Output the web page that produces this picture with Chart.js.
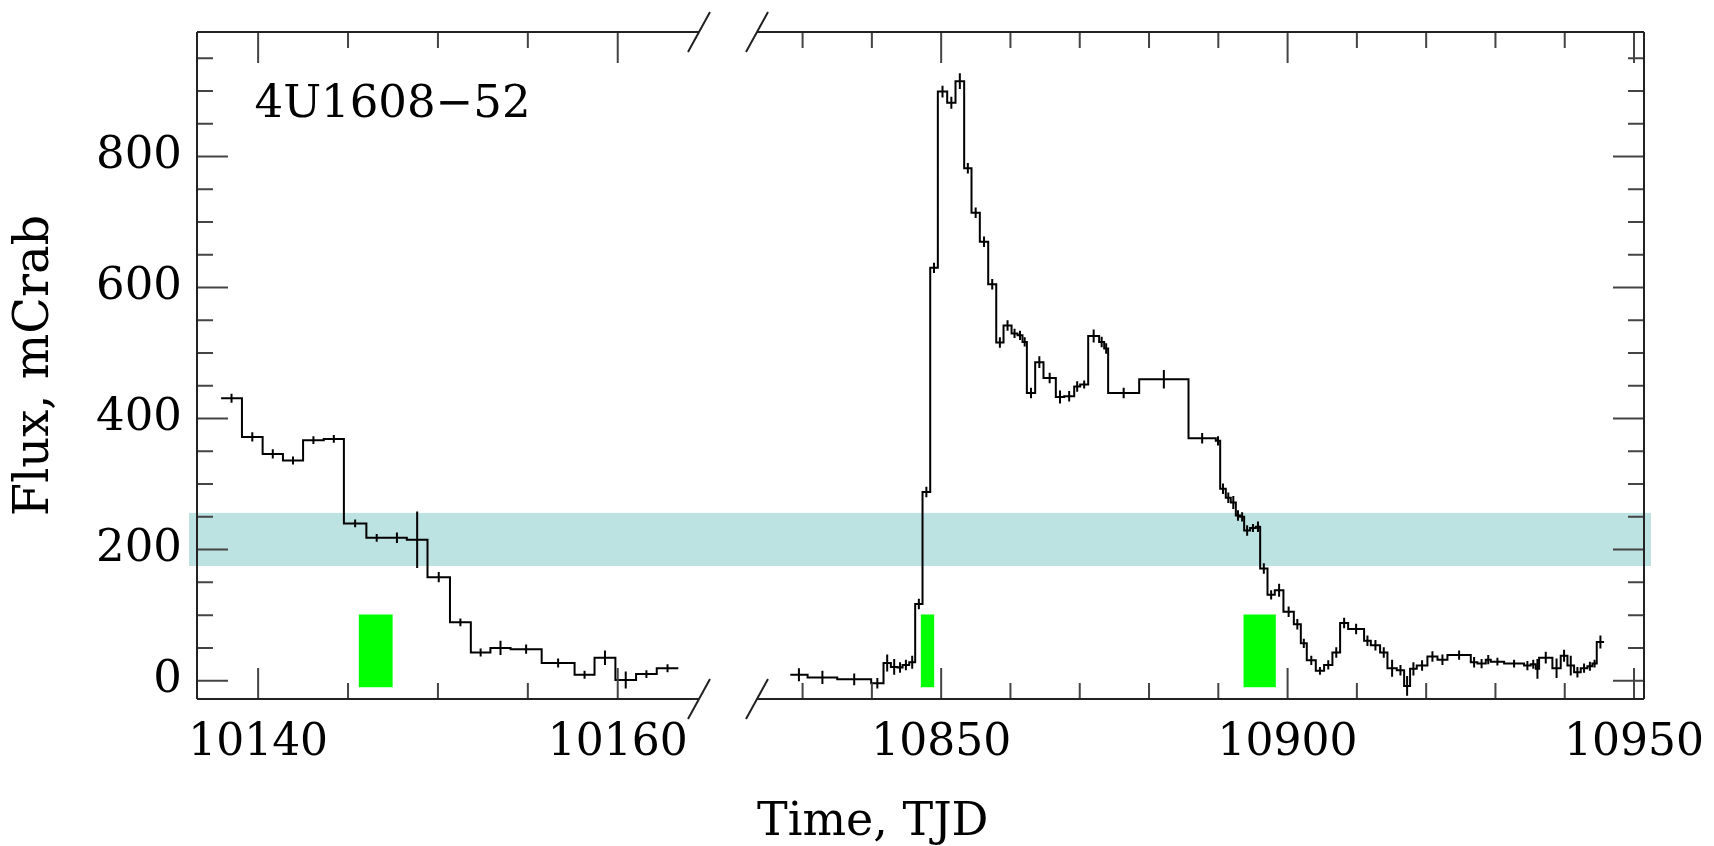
<!DOCTYPE html>
<html>
<head>
<meta charset="utf-8">
<title>4U1608-52 light curve</title>
<script src="https://cdn.jsdelivr.net/npm/chart.js@4/dist/chart.umd.min.js"></script>
<style>
  html, body { margin: 0; padding: 0; background: #fff; }
  #wrap { position: relative; width: 1714px; height: 846px; }
  #leftPanel { position: absolute; left: 0; top: 0; }
  #rightPanel { position: absolute; left: 718px; top: 0; }
</style>
</head>
<body>
<div id="wrap">
  <canvas id="leftPanel" width="718" height="846"></canvas>
  <canvas id="rightPanel" width="996" height="846"></canvas>
</div>
<script>
// light curve bins: edges in TJD, flux in mCrab, 1 sigma errors
const leftEdges = [10137.94, 10139.10, 10140.25, 10141.38, 10142.50, 10143.65, 10144.77, 10146.02,
    10147.17, 10148.27, 10149.42, 10150.67, 10151.83, 10152.92, 10154.04, 10155.77, 10157.60,
    10158.71, 10159.87, 10161.02, 10162.17, 10163.37];
const leftFlux = [431, 372, 346, 336, 367, 369, 240, 218, 218, 215, 158, 89, 43, 50, 48, 27, 9, 35, 1, 10, 19];
const leftErr = [7, 7, 7, 6, 6, 6, 6, 6, 8, 43, 8, 6, 6, 11, 7, 7, 6, 11, 13, 6, 6];

const rightEdges = [10828.22, 10830.72, 10835.00, 10839.90, 10841.68, 10842.74, 10843.70, 10844.43,
    10845.39, 10846.25, 10847.31, 10848.42, 10849.52, 10850.87, 10852.07, 10853.32, 10854.38,
    10855.58, 10856.79, 10857.95, 10859.00, 10860.16, 10861.02, 10861.74, 10862.37, 10863.57,
    10864.77, 10866.55, 10867.75, 10869.20, 10870.06, 10871.22, 10872.80, 10873.53, 10874.10,
    10878.58, 10885.70, 10889.64, 10890.27, 10891.08, 10891.80, 10892.53, 10893.15, 10893.73,
    10894.59, 10895.41, 10896.04, 10897.10, 10898.15, 10899.40, 10900.90, 10901.91, 10902.77,
    10904.07, 10905.27, 10906.47, 10907.58, 10908.74, 10911.04, 10912.01, 10913.35, 10914.41,
    10915.76, 10916.82, 10917.68, 10918.64, 10920.18, 10921.63, 10923.07, 10926.44, 10927.40,
    10928.60, 10929.32, 10931.25, 10934.13, 10935.09, 10935.82, 10936.30, 10938.22, 10939.42,
    10940.39, 10941.35, 10942.31, 10943.27, 10943.99, 10944.62, 10945.68];
const rightFlux = [9, 5, 2, -4, 27, 21, 20, 24, 28, 117,
    288, 630, 899, 882, 915, 782, 714, 670, 605, 516,
    542, 530, 527, 517, 439, 486, 462, 433, 434, 449,
    452, 526, 517, 507, 439, 460, 370, 366, 293, 279,
    272, 252, 250, 229, 233, 235, 171, 131, 138, 105,
    86, 57, 31, 15, 24, 43, 88, 79, 61, 54,
    43, 19, 16, -8, 18, 23, 37, 32, 39, 28,
    26, 32, 29, 26, 23, 25, 18, 35, 19, 38,
    23, 13, 19, 22, 26, 59];
const rightErr = [10, 10, 9, 8, 13, 12, 8, 8, 10, 8,
    8, 8, 9, 9, 12, 8, 8, 8, 8, 8,
    8, 7, 7, 7, 8, 9, 8, 10, 8, 8,
    6, 10, 8, 8, 8, 14, 8, 7, 8, 8,
    10, 8, 7, 8, 6, 8, 8, 7, 10, 8,
    8, 7, 7, 6, 7, 8, 8, 8, 8, 8,
    8, 13, 8, 15, 10, 8, 8, 8, 7, 8,
    7, 7, 6, 6, 7, 7, 15, 9, 15, 9,
    15, 8, 7, 7, 6, 10];

const leftRange = [10136.6, 10164.52];
const rightRange = [10823.42, 10951.44];
const fluxRange = [-28, 990];

const leftTickLabels = [10140, 10160];
const rightTickLabels = [10850, 10900, 10950];
const fluxTickLabels = [0, 200, 400, 600, 800];

// shaded flux level and the green observation windows
const bandFlux = [175, 256];
const greenStart = [10145.6, 10847.07, 10893.64];
const greenEnd = [10147.48, 10848.99, 10898.3];
const greenFlux = [-10, 101];

const sourceName = '4U1608\u221252';
const nameAt = [10139.8, 861];

Chart.defaults.font.family = "'DejaVu Serif', serif";
Chart.defaults.color = '#000';

const tickFont = { size: 44 };
const yTickFont = { size: 45 };
const titleFont = { size: 48 };

const stepPoints = (edges, flux) => {
    const pts = flux.map((f, i) => ({ x: edges[i], y: f }));
    pts.push({ x: edges[edges.length - 1], y: flux[flux.length - 1] });
    return pts;
};

const keepMultiples = (scale, step) => {
    scale.ticks = scale.ticks.filter(t => t.value >= scale.min && t.value <= scale.max &&
        Math.abs(t.value / step - Math.round(t.value / step)) < 1e-6);
};

const makePanelPlugin = (side, edges, flux, err, xMajor) => ({
    id: 'panel_' + side,
    beforeDatasetsDraw(chart) {
        const { ctx, chartArea: a, scales: { x, y } } = chart;
        ctx.save();
        const bTop = y.getPixelForValue(bandFlux[1]);
        const bBot = y.getPixelForValue(bandFlux[0]);
        const bx0 = side === 'left' ? a.left - 8 : 0;
        const bx1 = side === 'left' ? chart.width : a.right + 7;
        ctx.fillStyle = 'rgb(188, 226, 226)';
        ctx.fillRect(bx0, bTop, bx1 - bx0, bBot - bTop);

        ctx.fillStyle = '#00ff00';
        greenStart.forEach((t0, i) => {
            if (t0 < x.min || greenEnd[i] > x.max) return;
            const gx0 = x.getPixelForValue(t0);
            const gx1 = x.getPixelForValue(greenEnd[i]);
            const gy0 = y.getPixelForValue(greenFlux[1]);
            const gy1 = y.getPixelForValue(greenFlux[0]);
            ctx.fillRect(gx0, gy0, gx1 - gx0, gy1 - gy0);
        });
        ctx.restore();
    },
    afterDatasetsDraw(chart) {
        const { ctx, chartArea: a, scales: { x, y } } = chart;
        ctx.save();

        // vertical error bars at bin centres
        ctx.strokeStyle = '#000';
        ctx.lineWidth = 2;
        ctx.beginPath();
        flux.forEach((f, i) => {
            const cx = x.getPixelForValue((edges[i] + edges[i + 1]) / 2);
            ctx.moveTo(cx, y.getPixelForValue(f - err[i]));
            ctx.lineTo(cx, y.getPixelForValue(f + err[i]));
        });
        ctx.stroke();

        // inward tick marks
        ctx.strokeStyle = '#444';
        ctx.lineWidth = 2;
        ctx.beginPath();
        x.ticks.forEach(t => {
            const px = x.getPixelForValue(t.value);
            const len = xMajor.includes(t.value) ? 31 : 16;
            ctx.moveTo(px, a.top);
            ctx.lineTo(px, a.top + len);
            ctx.moveTo(px, a.bottom);
            ctx.lineTo(px, a.bottom - len);
        });
        const edgeX = side === 'left' ? a.left : a.right;
        const dir = side === 'left' ? 1 : -1;
        y.ticks.forEach(t => {
            const py = y.getPixelForValue(t.value);
            const len = fluxTickLabels.includes(t.value) ? 31 : 16;
            ctx.moveTo(edgeX, py);
            ctx.lineTo(edgeX + dir * len, py);
        });
        ctx.stroke();

        // frame with break marks on the inner ends
        ctx.strokeStyle = '#222';
        ctx.lineWidth = 2;
        ctx.beginPath();
        ctx.moveTo(a.left, a.top);
        ctx.lineTo(a.right, a.top);
        ctx.moveTo(a.left, a.bottom);
        ctx.lineTo(a.right, a.bottom);
        ctx.moveTo(edgeX, a.top);
        ctx.lineTo(edgeX, a.bottom);
        const breakX = side === 'left' ? a.right : a.left;
        [a.top, a.bottom].forEach(by => {
            ctx.moveTo(breakX - 11, by + 20);
            ctx.lineTo(breakX + 11, by - 20);
        });
        ctx.stroke();

        if (side === 'left') {
            ctx.fillStyle = '#000';
            ctx.font = "45px 'DejaVu Serif'";
            ctx.textBaseline = 'alphabetic';
            ctx.fillText(sourceName, x.getPixelForValue(nameAt[0]), y.getPixelForValue(nameAt[1]));
        }
        ctx.restore();
    }
});

const xAxis = (range, step, tickLabels, title) => ({
    type: 'linear',
    min: range[0],
    max: range[1],
    grid: { display: false, drawTicks: false },
    border: { display: false },
    ticks: {
        stepSize: step,
        autoSkip: false,
        maxRotation: 0,
        includeBounds: false,
        padding: 18,
        font: tickFont,
        callback: v => tickLabels.includes(v) ? String(v) : ''
    },
    title: title ? {
        display: true,
        text: title,
        align: 'start',
        font: { size: 46, lineHeight: 1.0 },
        padding: { top: 0, bottom: 0 }
    } : { display: false },
    afterBuildTicks: s => keepMultiples(s, step),
    afterFit: s => { s.height = 147; s.paddingLeft = 0; s.paddingRight = 0; }
});

const lineDataset = (edges, flux) => ({
    data: stepPoints(edges, flux),
    stepped: 'before',
    borderColor: '#000',
    borderWidth: 2,
    pointRadius: 0,
    fill: false,
    tension: 0
});

new Chart(document.getElementById('leftPanel'), {
    type: 'line',
    data: { datasets: [lineDataset(leftEdges, leftFlux)] },
    options: {
        responsive: false,
        animation: false,
        devicePixelRatio: 1,
        layout: { padding: { top: 32, right: 19, left: 0, bottom: 0 } },
        plugins: { legend: { display: false }, tooltip: { enabled: false } },
        scales: {
            x: xAxis(leftRange, 5, leftTickLabels, null),
            y: {
                type: 'linear',
                position: 'left',
                min: fluxRange[0],
                max: fluxRange[1],
                grid: { display: false, drawTicks: false },
                border: { display: false },
                ticks: {
                    stepSize: 50,
                    autoSkip: false,
                    includeBounds: false,
                    padding: 15,
                    font: yTickFont,
                    callback: v => fluxTickLabels.includes(v) ? String(v) : ''
                },
                title: { display: true, text: 'Flux, mCrab', font: titleFont, padding: { top: 7 } },
                afterBuildTicks: s => keepMultiples(s, 50),
                afterFit: s => { s.width = 197; s.paddingTop = 0; s.paddingBottom = 0; }
            }
        }
    },
    plugins: [makePanelPlugin('left', leftEdges, leftFlux, leftErr, leftTickLabels)]
});

new Chart(document.getElementById('rightPanel'), {
    type: 'line',
    data: { datasets: [lineDataset(rightEdges, rightFlux)] },
    options: {
        responsive: false,
        animation: false,
        devicePixelRatio: 1,
        layout: { padding: { top: 32, right: 70, left: 39, bottom: 0 } },
        plugins: { legend: { display: false }, tooltip: { enabled: false } },
        scales: {
            x: xAxis(rightRange, 10, rightTickLabels, 'Time, TJD'),
            y: {
                type: 'linear',
                position: 'right',
                min: fluxRange[0],
                max: fluxRange[1],
                grid: { display: false, drawTicks: false },
                border: { display: false },
                ticks: { display: false, stepSize: 50, autoSkip: false, includeBounds: false },
                afterBuildTicks: s => keepMultiples(s, 50),
                afterFit: s => { s.width = 0; s.paddingTop = 0; s.paddingBottom = 0; }
            }
        }
    },
    plugins: [makePanelPlugin('right', rightEdges, rightFlux, rightErr, rightTickLabels)]
});
</script>
</body>
</html>
